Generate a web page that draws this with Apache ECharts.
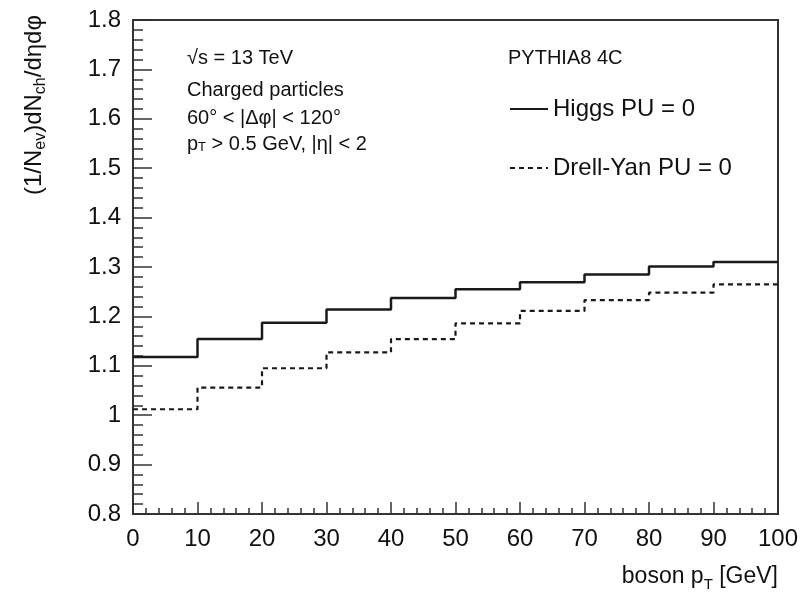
<!DOCTYPE html>
<html><head><meta charset="utf-8">
<script src="https://cdn.jsdelivr.net/npm/echarts@6/dist/echarts.min.js"></script>
<style>html,body{margin:0;padding:0;background:#fff}#c{width:804px;height:603px}</style>
</head><body><div id="c"></div>
<script>
const binEdges = [0, 10, 20, 30, 40, 50, 60, 70, 80, 90, 100];
const higgs = [1.118, 1.154, 1.187, 1.214, 1.237, 1.255, 1.269, 1.285, 1.301, 1.310];
const drellYan = [1.012, 1.056, 1.095, 1.127, 1.154, 1.186, 1.211, 1.233, 1.248, 1.265];
const seriesNames = ['Higgs PU = 0', 'Drell-Yan PU = 0'];
const annotations = ['√s = 13 TeV', 'Charged particles', '60° < |Δφ| < 120°', 'p{s|T} > 0.5 GeV, |η| < 2'];

function stepData(vals) {
  const pts = vals.map((v, i) => [binEdges[i], v]);
  pts.push([binEdges[binEdges.length - 1], vals[vals.length - 1]]);
  return pts;
}

const FONT = '"Liberation Sans", Arial, Helvetica, sans-serif';
const chart = echarts.init(document.getElementById('c'));
const annY = [58, 90, 118, 144];

const graphics = annotations.map((t, i) => ({
  type: 'text', x: 187, y: annY[i],
  style: {
    text: t, fill: '#111', fontFamily: FONT, fontSize: 20,
    verticalAlign: 'middle', align: 'left',
    rich: {
      s: { fontSize: 13, fontFamily: FONT, fill: '#111', verticalAlign: 'bottom', lineHeight: 10 }
    }
  }
}));
graphics.push({
  type: 'text', x: 508, y: 58,
  style: { text: 'PYTHIA8 4C', fill: '#111', fontFamily: FONT, fontSize: 20, verticalAlign: 'middle', align: 'left' }
});
graphics.push({
  type: 'text', x: 34, y: 15, rotation: Math.PI / 2,
  style: {
    text: '{n|(1/N}{s|ev}{n|)dN}{s|ch}{n|/dηdφ}',
    fill: '#111', fontFamily: FONT, fontSize: 24, align: 'right', verticalAlign: 'middle',
    rich: {
      n: { fontSize: 24, fontFamily: FONT, fill: '#111', lineHeight: 30, verticalAlign: 'middle' },
      s: { fontSize: 16, fontFamily: FONT, fill: '#111', lineHeight: 12, verticalAlign: 'bottom' }
    }
  }
});
graphics.push({
  type: 'text', x: 778, y: 577,
  style: {
    text: '{n|boson p}{s|T}{n| [GeV]}',
    fill: '#111', fontFamily: FONT, fontSize: 23, align: 'right', verticalAlign: 'middle',
    rich: {
      n: { fontSize: 23, fontFamily: FONT, fill: '#111', lineHeight: 30, verticalAlign: 'middle' },
      s: { fontSize: 15, fontFamily: FONT, fill: '#111', lineHeight: 12, verticalAlign: 'bottom' }
    }
  }
});

chart.setOption({
  animation: false,
  backgroundColor: '#fff',
  grid: { left: 133, right: 26, top: 20, bottom: 89, show: true, borderColor: '#333', borderWidth: 2, backgroundColor: 'transparent' },
  legend: {
    show: true, padding: 0,
    orient: 'vertical', left: 509, top: 97, itemWidth: 38, itemHeight: 14, itemGap: 35,
    itemStyle: { opacity: 0 },
    textStyle: { fontSize: 24, fontFamily: FONT, color: '#111' },
    data: seriesNames
  },
  xAxis: {
    type: 'value', min: 0, max: 100, interval: 10,
    axisLine: { show: true, onZero: false, lineStyle: { color: '#333', width: 2 } },
    axisTick: { show: true, inside: true, length: 12, lineStyle: { color: '#333', width: 1.5 } },
    minorTick: { show: true, splitNumber: 5, length: 6, lineStyle: { color: '#333', width: 1.5 } },
    splitLine: { show: false },
    axisLabel: { fontSize: 24, fontFamily: FONT, color: '#111', margin: 13 }
  },
  yAxis: {
    type: 'value', min: 0.8, max: 1.8, interval: 0.1,
    axisLine: { show: true, onZero: false, lineStyle: { color: '#333', width: 2 } },
    axisTick: { show: true, inside: true, length: 19, lineStyle: { color: '#333', width: 1.5 } },
    minorTick: { show: true, splitNumber: 5, length: 10, lineStyle: { color: '#333', width: 1.5 } },
    splitLine: { show: false },
    axisLabel: { fontSize: 24, fontFamily: FONT, color: '#111', margin: 12, formatter: v => String(+v.toFixed(1)) }
  },
  graphic: graphics,
  series: [
    {
      name: seriesNames[0], type: 'line', step: 'end', symbol: 'none',
      data: stepData(higgs),
      lineStyle: { color: '#1a1a1a', width: 2.5, type: 'solid' },
      itemStyle: { color: '#1a1a1a' }
    },
    {
      name: seriesNames[1], type: 'line', step: 'end', symbol: 'none',
      data: stepData(drellYan),
      lineStyle: { color: '#1a1a1a', width: 2.2, type: [5, 4] },
      itemStyle: { color: '#1a1a1a' }
    }
  ]
});
</script></body></html>
